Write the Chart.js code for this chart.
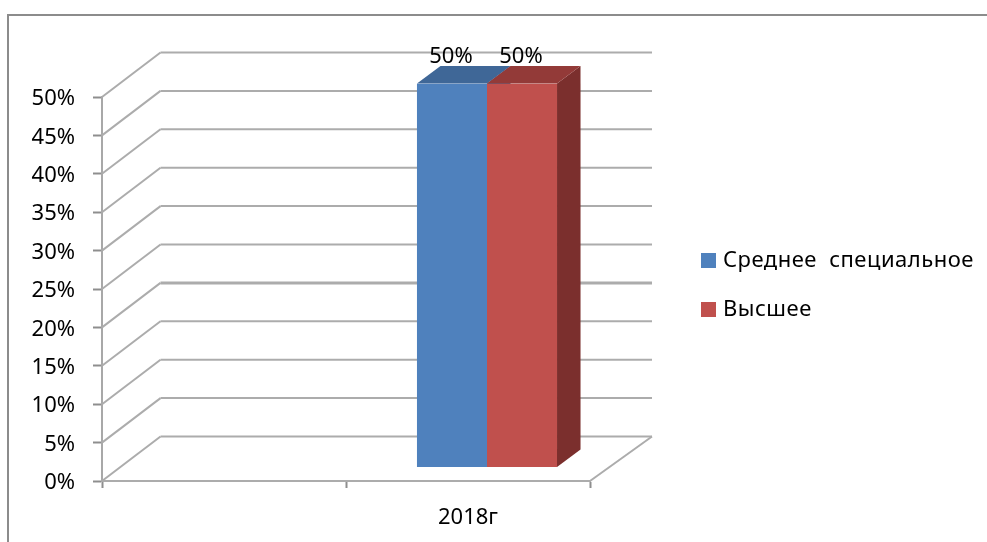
<!DOCTYPE html>
<html>
<head>
<meta charset="utf-8">
<title>2018г</title>
<style>
  html, body { margin: 0; background: #fff; overflow: hidden; }
  #frame { position: absolute; left: 7px; top: 14px; right: 0; bottom: 0; border-top: 2px solid #8c8c8c; border-left: 2px solid #8c8c8c; }
  #chart { position: absolute; left: 0; top: 0; }
  #legend { position: absolute; left: 701px; top: 243px; font: 22px 'Noto Sans', sans-serif; letter-spacing: 0.5px; word-spacing: 6px; color: #000; white-space: nowrap; }
  #legend div { height: 49px; line-height: 30px; }
  #legend i { display: inline-block; width: 15px; height: 15px; margin-right: 7px; vertical-align: -1px; }
</style>
<script src="https://cdn.jsdelivr.net/npm/chart.js@4"></script>
</head>
<body>
<div id="frame"></div>
<canvas id="chart" width="987" height="542"></canvas>
<div id="legend"></div>
<script>
  // данные
  const categories = ['', '2018г'];
  const srednee = [null, 50];
  const vysshee = [null, 50];
  const seriesNames = ['Среднее специальное', 'Высшее'];
  const yTicks = { min: 0, max: 50, step: 5 };

  const FONT = 'Noto Sans, sans-serif';
  const GRID = '#acacac';
  const AXIS = '#8e8e8e';

  // сдвиг задней стенки и самих столбцов (псевдо-3D)
  const wall = { dx: 58.5, dy: -44.5, dxRight: 62 };
  const barShift = { dx: 19, dy: -13.5 };
  const depth = { dx: 23.5, dy: -17.5 };

  const faces = [
    { top: '#3f6797', side: '#3a5f8c' },
    { top: '#933a38', side: '#7b2f2d' }
  ];

  function poly(ctx, pts, color) {
    ctx.fillStyle = color;
    ctx.beginPath();
    pts.forEach((p, i) => i ? ctx.lineTo(p[0], p[1]) : ctx.moveTo(p[0], p[1]));
    ctx.closePath();
    ctx.fill();
  }

  const threeD = {
    id: 'threeD',
    // стенка: линии сетки идут от оси назад и вдоль задней стенки
    beforeDatasetsDraw(chart) {
      const { ctx, chartArea, scales } = chart;
      ctx.save();
      ctx.strokeStyle = GRID;
      scales.y.ticks.forEach(t => {
        const y = scales.y.getPixelForValue(t.value);
        ctx.lineWidth = 2;
        ctx.beginPath();
        ctx.moveTo(chartArea.left, y);
        ctx.lineTo(chartArea.left + wall.dx, y + wall.dy);
        ctx.stroke();
        ctx.lineWidth = t.value === 20 ? 3 : 2;
        ctx.beginPath();
        ctx.moveTo(chartArea.left + wall.dx, y + wall.dy);
        ctx.lineTo(chartArea.right + wall.dxRight, y + wall.dy);
        ctx.stroke();
      });
      ctx.lineWidth = 2;
      ctx.beginPath();
      ctx.moveTo(chartArea.right, chartArea.bottom);
      ctx.lineTo(chartArea.right + wall.dxRight, chartArea.bottom + wall.dy);
      ctx.stroke();

      ctx.translate(barShift.dx, barShift.dy);
      chart.data.datasets.forEach((ds, i) => {
        chart.getDatasetMeta(i).data.forEach((bar, j) => {
          if (ds.data[j] == null) return;
          const l = bar.x - bar.width / 2, r = bar.x + bar.width / 2;
          const t = bar.y, b = bar.base;
          poly(ctx, [[r, t], [r + depth.dx, t + depth.dy], [r + depth.dx, b + depth.dy], [r, b]], faces[i].side);
          poly(ctx, [[l, t], [l + depth.dx, t + depth.dy], [r + depth.dx, t + depth.dy], [r, t]], faces[i].top);
        });
      });
    },
    afterDatasetsDraw(chart) {
      const { ctx } = chart;
      ctx.restore();
      // подписи значений
      ctx.save();
      ctx.fillStyle = '#000';
      ctx.font = '22px ' + FONT;
      ctx.textAlign = 'center';
      ctx.textBaseline = 'middle';
      chart.data.datasets.forEach((ds, i) => {
        chart.getDatasetMeta(i).data.forEach((bar, j) => {
          if (ds.data[j] == null) return;
          ctx.fillText(ds.data[j] + '%', bar.x + barShift.dx - 1, bar.y - 40);
        });
      });
      ctx.restore();
    }
  };

  const chart = new Chart(document.getElementById('chart'), {
    type: 'bar',
    plugins: [threeD],
    data: {
      labels: categories,
      datasets: [
        { label: seriesNames[0], data: srednee, backgroundColor: '#4f81bd' },
        { label: seriesNames[1], data: vysshee, backgroundColor: '#c0504d' }
      ]
    },
    options: {
      responsive: false,
      animation: false,
      devicePixelRatio: 1,
      categoryPercentage: 0.574,
      barPercentage: 1,
      layout: { padding: { top: 97, right: 397, bottom: 0, left: 0 } },
      plugins: {
        tooltip: { enabled: false },
        legend: { display: false }
      },
      scales: {
        x: {
          offset: true,
          grid: { offset: true, drawOnChartArea: false, tickLength: 7, tickColor: AXIS, tickWidth: 2 },
          border: { color: GRID, width: 2 },
          ticks: { color: '#000', font: { family: FONT, size: 22 }, padding: 17, maxRotation: 0 },
          afterFit(s) { s.height = 61; }
        },
        y: {
          min: yTicks.min,
          max: yTicks.max,
          grid: { drawOnChartArea: false, tickLength: 9, tickColor: AXIS, tickWidth: 2 },
          border: { color: '#a8a8a8', width: 2 },
          ticks: { color: '#000', font: { family: FONT, size: 22 }, padding: 18, labelOffset: 2, stepSize: yTicks.step, callback: v => v + '%' },
          afterFit(s) { s.width = 102; }
        }
      }
    }
  });

  // легенда из наборов данных
  const legend = document.getElementById('legend');
  chart.data.datasets.forEach(ds => {
    const row = document.createElement('div');
    const box = document.createElement('i');
    box.style.background = ds.backgroundColor;
    row.appendChild(box);
    row.appendChild(document.createTextNode(ds.label));
    legend.appendChild(row);
  });
</script>
</body>
</html>
